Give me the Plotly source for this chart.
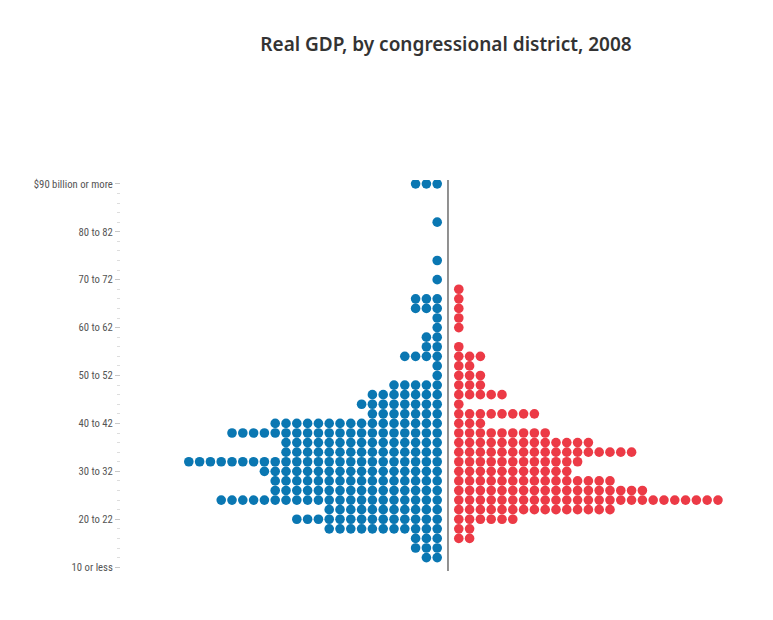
import plotly.graph_objects as go

# GDP bins (index 0 = "10 or less", each step = $2 billion, 40 = "$90 billion or more")
bins = list(range(41))

# number of districts per bin
blue_counts = [0, 2, 3, 3, 11, 14, 11, 21, 16, 16,
               17, 24, 15, 15, 20, 16, 7, 8, 7, 5,
               1, 1, 4, 2, 2, 1, 1, 3, 3, 0,
               1, 0, 1, 0, 0, 0, 1, 0, 0, 0, 3]
red_counts = [0, 0, 0, 2, 2, 6, 15, 25, 18, 15,
              11, 12, 17, 13, 9, 3, 8, 1, 5, 3,
              3, 2, 3, 1, 0, 1, 1, 1, 1, 1,
              0, 0, 0, 0, 0, 0, 0, 0, 0, 0, 0]

tick_bins = [0, 5, 10, 15, 20, 25, 30, 35, 40]
tick_labels = ["10 or less", "20 to 22", "30 to 32", "40 to 42", "50 to 52",
               "60 to 62", "70 to 72", "80 to 82", "$90 billion or more"]

BLUE = "#0a77b2"
RED = "#ec3a46"

bx, by, rx, ry = [], [], [], []
for b, n in zip(bins, blue_counts):
    for k in range(1, n + 1):
        bx.append(-k)
        by.append(b)
for b, n in zip(bins, red_counts):
    for k in range(1, n + 1):
        rx.append(k)
        ry.append(b)

fig = go.Figure()
fig.add_trace(go.Scatter(x=bx, y=by, mode="markers",
                         marker=dict(size=9.6, color=BLUE, line=dict(width=0)),
                         showlegend=False, hoverinfo="skip"))
fig.add_trace(go.Scatter(x=rx, y=ry, mode="markers",
                         marker=dict(size=9.6, color=RED, line=dict(width=0)),
                         showlegend=False, hoverinfo="skip"))

fig.add_shape(type="line", xref="x", yref="paper", x0=0, x1=0, y0=0, y1=1,
              line=dict(color="#555555", width=1.3))

W, H = 765, 612
fig.update_layout(
    width=W, height=H,
    margin=dict(l=113, r=33, t=172, b=49),
    paper_bgcolor="white", plot_bgcolor="white",
    title=dict(text="Real GDP, by congressional district, 2008",
               x=438 / W, xanchor="center", xref="container",
               y=1 - 36 / H, yanchor="middle", yref="container",
               font=dict(family="Noto Sans", size=19, color="#333333", weight=600)),
    xaxis=dict(range=[-30.28, 27.04], showgrid=False, zeroline=False,
               showticklabels=False, ticks="", showline=False, fixedrange=True),
    yaxis=dict(range=[-0.4, 40.4], showgrid=False, zeroline=False, showline=False,
               tickmode="array", tickvals=tick_bins, ticktext=tick_labels,
               ticks="outside", ticklen=5, tickwidth=1, tickcolor="#c8c8c8",
               tickfont=dict(family="Roboto Condensed, Roboto", size=10.7, color="#555555"),
               minor=dict(tickmode="linear", tick0=0, dtick=1, ticks="outside",
                          ticklen=3, tickwidth=1, tickcolor="#dddddd", showgrid=False),
               fixedrange=True),
)

fig.write_html("out.html")
